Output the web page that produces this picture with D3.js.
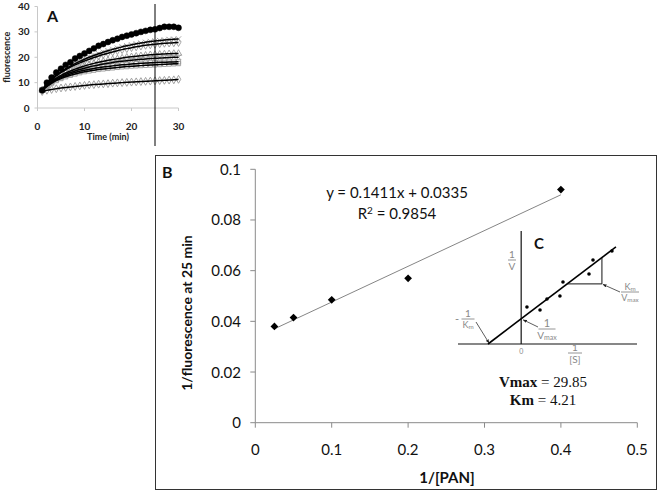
<!DOCTYPE html>
<html><head><meta charset="utf-8">
<script src="https://cdn.jsdelivr.net/npm/d3@7"></script>
<style>body{margin:0;background:#fff} svg{display:block}</style>
</head><body><svg id="c" width="661" height="495"></svg>
<script>
// ---------- Panel A data ----------
const timeA = [1,2,3,4,5,6,7,8,9,10,11,12,13,14,15,16,17,18,19,20,21,22,23,24,25,26,27,28,29,30];
const seriesCircle   = [7,10,12,14,15.5,17,18,19.5,20.5,21.5,22.5,23.5,24.5,25.2,26,26.7,27.3,28,28.5,29,29.5,30,30.4,30.8,31,31.5,32,32,32,31.6];
const seriesCrossHi  = [7,9.5,11.5,13,14.3,15.5,16.5,17.5,18.4,19.2,20,20.7,21.4,22,22.6,23.1,23.6,24.1,24.5,24.9,25.3,25.6,25.9,26.2,26.4,26.6,26.8,27,27.1,27.2];
const seriesDiamHi   = [7,9.3,11.2,12.7,14,15.1,16.1,17,17.8,18.5,19.2,19.9,20.5,21.1,21.6,22.1,22.6,23,23.4,23.8,24.1,24.4,24.7,24.9,25.1,25.3,25.5,25.6,25.7,25.8];
const seriesTriangle = [7,9,10.5,11.8,12.9,13.8,14.6,15.3,16,16.6,17.1,17.6,18,18.4,18.8,19.1,19.4,19.7,20,20.2,20.4,20.6,20.8,21,21.1,21.2,21.3,21.4,21.5,21.5];
const seriesCrossMid = [7,8.8,10.2,11.4,12.4,13.2,14,14.6,15.2,15.7,16.2,16.6,17,17.3,17.6,17.9,18.2,18.4,18.6,18.8,19,19.2,19.3,19.5,19.6,19.7,19.8,19.9,20,20];
const seriesSquareHi = [7,8.7,10,11.1,12,12.8,13.4,14,14.5,14.9,15.3,15.6,15.9,16.2,16.4,16.6,16.8,17,17.2,17.3,17.5,17.6,17.7,17.8,17.9,18,18,18.1,18.1,18.2];
const seriesSquareLo = [7,8.5,9.8,10.8,11.6,12.3,12.9,13.4,13.9,14.3,14.6,14.9,15.2,15.4,15.6,15.8,16,16.2,16.3,16.5,16.6,16.7,16.8,16.9,17,17.1,17.2,17.3,17.4,17.5];
const seriesDiamLo   = [6.5,7,7.3,7.6,7.9,8.1,8.3,8.5,8.7,8.9,9.1,9.2,9.4,9.5,9.6,9.8,9.9,10,10.1,10.2,10.3,10.4,10.5,10.6,10.7,10.8,10.9,11,11.1,11.3];
const seriesA = [
  {vals: seriesCrossHi,  shape: "x"},
  {vals: seriesDiamHi,   shape: "diamond"},
  {vals: seriesTriangle, shape: "triangle"},
  {vals: seriesCrossMid, shape: "x"},
  {vals: seriesSquareHi, shape: "square"},
  {vals: seriesSquareLo, shape: "square"},
  {vals: seriesDiamLo,   shape: "diamond"},
  {vals: seriesCircle,   shape: "circle"}
];
const ticksAx = [0,10,20,30];
const ticksAy = [0,10,20,30,40];
const markTimeA = 25;

// ---------- Panel B data ----------
const invPAN = [0.025, 0.05, 0.1, 0.2, 0.4];
const invFluor = [0.038, 0.0415, 0.0485, 0.057, 0.092];
const fitSlope = 0.1411, fitIntercept = 0.0335;
const fitXRange = [0.025, 0.4];
const ticksBx = [0, 0.1, 0.2, 0.3, 0.4, 0.5];
const ticksBy = [0, 0.02, 0.04, 0.06, 0.08, 0.1];

// ---------- Panel C (schematic) data ----------
const insetPtsX = [0.55,1.79,2.45,3.68,3.97,6.44,6.82,8.62];
const insetPtsY = [3.6,3.31,4.38,4.67,6.04,6.82,8.18,9.06];
const insetLineX = [-3.15, 9.0];
const insetLineY = [0, 9.45];
const insetTriX = [4.37, 7.67, 7.67];
const insetTriY = [5.85, 5.85, 8.42];

const svg = d3.select("#c");
const sans = "Lato, 'Open Sans', sans-serif";
const serif = "'Liberation Serif', 'DejaVu Serif', serif";
const axisGray = "#8a8a8a";

// ================= Panel A =================
const xA = d3.scaleLinear().domain([0,30]).range([37.5,178.5]);
const yA = d3.scaleLinear().domain([0,40]).range([108,6.5]);
const gA = svg.append("g");

gA.append("line").attr("x1", xA(0)).attr("x2", xA(0)).attr("y1", yA(40)).attr("y2", yA(0)).attr("stroke", "#c8c8c8");
gA.append("line").attr("x1", xA(0)).attr("x2", xA(30)).attr("y1", yA(0)).attr("y2", yA(0)).attr("stroke", "#c8c8c8");
ticksAy.forEach(t => {
  gA.append("line").attr("x1", xA(0)-3).attr("x2", xA(0)).attr("y1", yA(t)).attr("y2", yA(t)).attr("stroke", "#c8c8c8");
  gA.append("text").attr("x", xA(0)-8).attr("y", yA(t)+3.5).attr("text-anchor","end")
    .attr("font-family", sans).attr("font-weight","bold").attr("font-size", 10).attr("fill","#222").text(t);
});
ticksAx.forEach(t => {
  gA.append("line").attr("x1", xA(t)).attr("x2", xA(t)).attr("y1", yA(0)).attr("y2", yA(0)+3).attr("stroke", "#c8c8c8");
  gA.append("text").attr("x", xA(t)).attr("y", 129.5).attr("text-anchor","middle")
    .attr("font-family", sans).attr("font-weight","bold").attr("font-size", 10).attr("fill","#222").text(t);
});
gA.append("text").attr("x", 108).attr("y", 140).attr("text-anchor","middle")
  .attr("font-family", sans).attr("font-weight","bold").attr("font-size", 9).attr("fill","#222").text("Time (min)");
gA.append("text").attr("transform", `translate(10,${yA(20)}) rotate(-90)`).attr("text-anchor","middle")
  .attr("font-family", sans).attr("font-weight","bold").attr("font-size", 9).attr("fill","#222").text("fluorescence");
gA.append("text").attr("x", 47).attr("y", 22).attr("font-family", sans).attr("font-weight","bold")
  .attr("font-size", 16).attr("fill","#111").text("A");

const symFor = {
  x: d3.symbol().type(d3.symbolX).size(20),
  diamond: d3.symbol().type(d3.symbolDiamond).size(18),
  triangle: d3.symbol().type(d3.symbolTriangle).size(18),
  square: d3.symbol().type(d3.symbolSquare).size(18),
  circle: d3.symbol().type(d3.symbolCircle).size(28)
};
const lineA = d3.line().x((d,i) => xA(timeA[i])).y(d => yA(d)).curve(d3.curveBasis);
seriesA.forEach(s => {
  const filled = s.shape === "circle";
  gA.append("g").selectAll("path").data(s.vals).join("path")
    .attr("d", symFor[s.shape]())
    .attr("transform", (d,i) => `translate(${xA(timeA[i])},${yA(d)})`)
    .attr("fill", filled ? "#000" : "none")
    .attr("stroke", filled ? "#000" : "#999")
    .attr("stroke-width", filled ? 0.5 : 0.9);
});
seriesA.forEach(s => {
  gA.append("path").attr("d", lineA(s.vals)).attr("fill","none").attr("stroke","#000").attr("stroke-width",1.5);
});
gA.append("line").attr("x1", xA(markTimeA)).attr("x2", xA(markTimeA)).attr("y1", 4).attr("y2", 146)
  .attr("stroke","#000").attr("stroke-width",1);

// ================= Panel B =================
svg.append("rect").attr("x",155.5).attr("y",155.5).attr("width",501).attr("height",334)
  .attr("fill","none").attr("stroke","#333").attr("stroke-width",1);
const xB = d3.scaleLinear().domain([0,0.5]).range([255.3,637.3]);
const yB = d3.scaleLinear().domain([0,0.1]).range([422.7,169.3]);
const gB = svg.append("g");
gB.append("line").attr("x1", xB(0)).attr("x2", xB(0)).attr("y1", yB(0.1)).attr("y2", yB(0)).attr("stroke", axisGray);
gB.append("line").attr("x1", xB(0)).attr("x2", xB(0.5)).attr("y1", yB(0)).attr("y2", yB(0)).attr("stroke", axisGray);
ticksBy.forEach(t => {
  gB.append("line").attr("x1", xB(0)-5).attr("x2", xB(0)).attr("y1", yB(t)).attr("y2", yB(t)).attr("stroke", axisGray);
  gB.append("text").attr("x", 241).attr("y", yB(t)+5.5).attr("text-anchor","end")
    .attr("font-family", sans).attr("font-size", 15).attr("fill","#111").text(t === 0 ? "0" : String(t));
});
ticksBx.forEach(t => {
  gB.append("line").attr("x1", xB(t)).attr("x2", xB(t)).attr("y1", yB(0)).attr("y2", yB(0)+5).attr("stroke", axisGray);
  gB.append("text").attr("x", xB(t)).attr("y", 455).attr("text-anchor","middle")
    .attr("font-family", sans).attr("font-size", 15).attr("fill","#111").text(String(t));
});
gB.append("text").attr("x", 447).attr("y", 483).attr("text-anchor","middle")
  .attr("font-family", sans).attr("font-weight","bold").attr("font-size", 15).attr("fill","#111").text("1/[PAN]");
gB.append("text").attr("transform", `translate(192,313) rotate(-90)`).attr("text-anchor","middle")
  .attr("font-family", sans).attr("font-weight","bold").attr("font-size", 14).attr("fill","#111").text("1/fluorescence at 25 min");
gB.append("text").attr("x", 162).attr("y", 178).attr("font-family", sans).attr("font-weight","bold")
  .attr("font-size", 16).attr("fill","#111").text("B");

gB.append("line").attr("x1", xB(fitXRange[0])).attr("y1", yB(fitSlope*fitXRange[0]+fitIntercept))
  .attr("x2", xB(fitXRange[1])).attr("y2", yB(fitSlope*fitXRange[1]+fitIntercept))
  .attr("stroke","#777").attr("stroke-width",0.9);
gB.selectAll("path.pt").data(invPAN).join("path").attr("class","pt")
  .attr("d", d3.symbol().type(d3.symbolSquare).size(30)())
  .attr("transform", (d,i) => `translate(${xB(d)},${yB(invFluor[i])}) rotate(45)`)
  .attr("fill","#000");
gB.append("text").attr("x", 397).attr("y", 198).attr("text-anchor","middle")
  .attr("font-family", sans).attr("font-size", 15).attr("fill","#111")
  .text(`y = ${fitSlope}x + ${fitIntercept}`);
const r2 = gB.append("text").attr("x", 397).attr("y", 219).attr("text-anchor","middle")
  .attr("font-family", sans).attr("font-size", 15).attr("fill","#111");
r2.append("tspan").text("R");
r2.append("tspan").attr("dy",-5).attr("font-size",10).text("2");
r2.append("tspan").attr("dy",5).text(" = 0.9854");

// ================= Panel C (inset) =================
const ix = d3.scaleLinear().domain([-6,11]).range([458,637]);
const iy = d3.scaleLinear().domain([0,11]).range([344,231]);
const gC = svg.append("g");
const defs = svg.append("defs");
defs.append("marker").attr("id","arr").attr("viewBox","0 0 10 10").attr("refX",9).attr("refY",5)
  .attr("markerWidth",5).attr("markerHeight",5).attr("orient","auto")
  .append("path").attr("d","M0,1 L10,5 L0,9 z").attr("fill","#222");

gC.append("line").attr("x1", ix(-6)).attr("x2", ix(11)).attr("y1", iy(0)).attr("y2", iy(0)).attr("stroke","#111").attr("stroke-width",1.2);
gC.append("line").attr("x1", ix(0)).attr("x2", ix(0)).attr("y1", iy(0)).attr("y2", iy(11)).attr("stroke","#111").attr("stroke-width",1.2);
gC.append("line").attr("x1", ix(insetLineX[0])).attr("y1", iy(insetLineY[0]))
  .attr("x2", ix(insetLineX[1])).attr("y2", iy(insetLineY[1])).attr("stroke","#000").attr("stroke-width",1.6);
gC.append("path").attr("d", d3.line().x((d,i)=>ix(d)).y((d,i)=>iy(insetTriY[i]))(insetTriX))
  .attr("fill","none").attr("stroke","#111").attr("stroke-width",1);
gC.selectAll("circle").data(insetPtsX).join("circle")
  .attr("cx", d => ix(d)).attr("cy", (d,i) => iy(insetPtsY[i])).attr("r", 1.8).attr("fill","#000");
gC.append("text").attr("x", 534).attr("y", 249).attr("font-family", sans).attr("font-weight","bold")
  .attr("font-size", 15).attr("fill","#111").text("C");

const lg = "#888";
function frac(cx, yTop, top, topSub, bot, botSub, barW, fsTop, fsBot) {
  const a = gC.append("text").attr("x", cx).attr("y", yTop).attr("text-anchor","middle")
    .attr("font-family", sans).attr("font-size", fsTop).attr("fill", lg);
  a.append("tspan").text(top);
  if (topSub) a.append("tspan").attr("font-size", fsTop*0.7).attr("dy", 1).text(topSub);
  gC.append("line").attr("x1", cx-barW/2).attr("x2", cx+barW/2).attr("y1", yTop+2).attr("y2", yTop+2)
    .attr("stroke", lg).attr("stroke-width", 0.9);
  const t = gC.append("text").attr("x", cx).attr("y", yTop+2+fsBot).attr("text-anchor","middle")
    .attr("font-family", sans).attr("font-size", fsBot).attr("fill", lg);
  t.append("tspan").text(bot);
  if (botSub) t.append("tspan").attr("font-size", fsBot*0.7).attr("dy", 1).text(botSub);
}
frac(512, 258, "1", null, "V", null, 8, 10, 10);
frac(575, 351, "1", null, "[S]", null, 14, 10, 10);
frac(468, 317, "1", null, "K", "m", 13, 10, 9);
frac(547, 327, "1", null, "V", "max", 17, 11, 10);
frac(630, 290, "K", "m", "V", "max", 18, 9, 9);
gC.append("text").attr("x", 457).attr("y", 323).attr("text-anchor","middle")
  .attr("font-family", sans).attr("font-size", 11).attr("fill", lg).text("-");
gC.append("text").attr("x", ix(0)).attr("y", 354).attr("text-anchor","middle")
  .attr("font-family", sans).attr("font-size", 7).attr("fill", lg).text("0");

gC.append("line").attr("x1",476).attr("y1",322).attr("x2",ix(insetLineX[0])+1).attr("y2",iy(0)-1)
  .attr("stroke","#333").attr("stroke-width",0.8).attr("marker-end","url(#arr)");
gC.append("line").attr("x1",538).attr("y1",327).attr("x2",ix(0)+2).attr("y2",iy(2.45)+1)
  .attr("stroke","#333").attr("stroke-width",0.8).attr("marker-end","url(#arr)");
gC.append("line").attr("x1",620).attr("y1",292).attr("x2",ix(7.67)+1).attr("y2",iy(5.85)+0.5)
  .attr("stroke","#333").attr("stroke-width",0.8).attr("marker-end","url(#arr)");

function kin(y, bold, rest) {
  const t = gC.append("text").attr("x", 543).attr("y", y).attr("text-anchor","middle")
    .attr("font-family", serif).attr("font-size", 15).attr("fill","#111");
  t.append("tspan").attr("font-weight","bold").text(bold);
  t.append("tspan").text(rest);
}
kin(387, "Vmax", " = 29.85");
kin(405, "Km", " = 4.21");
</script></body></html>
